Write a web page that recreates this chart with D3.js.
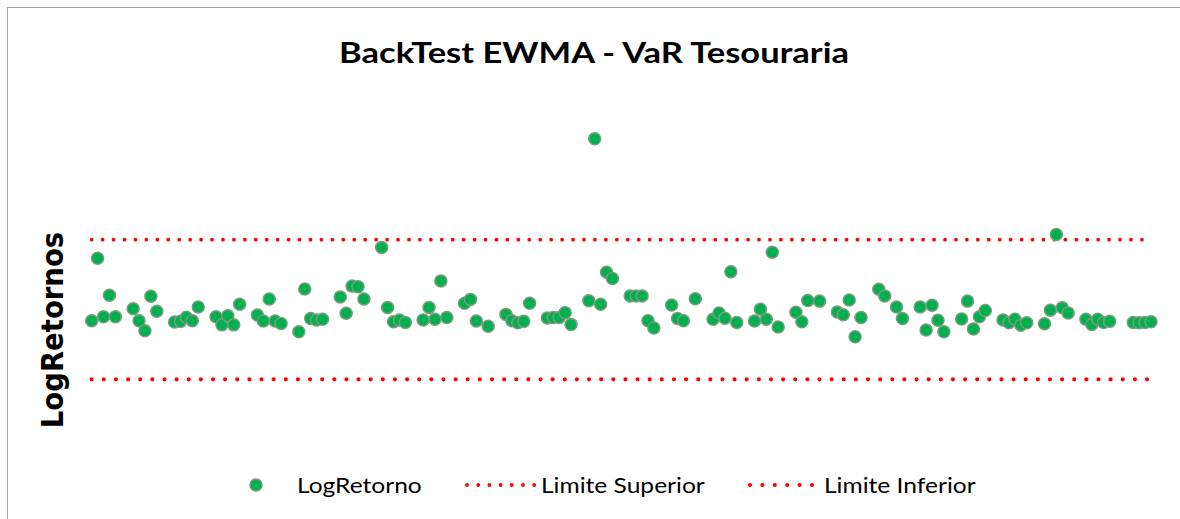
<!DOCTYPE html>
<html>
<head>
<meta charset="utf-8">
<script src="https://cdn.jsdelivr.net/npm/d3@7"></script>
<style>
  body { margin: 0; background: #fff; }
  svg { display: block; }
</style>
</head>
<body>
<div id="vis"></div>
<script>
// dias corridos desde a primeira data (sem fins de semana / feriados)
const dias = [
  0, 1, 2, 3, 4, 7, 8, 9, 10, 11, 14, 15, 16, 17, 18, 21, 22, 23, 24, 25,
  28, 29, 30, 31, 32, 35, 36, 37, 38, 39, 42, 43, 44, 45, 46, 49, 50, 51, 52, 53,
  56, 57, 58, 59, 60, 63, 64, 65, 67, 70, 71, 72, 73, 74, 77, 78, 79, 80, 81,
  84, 85, 86, 87, 88, 91, 92, 93, 94, 95, 98, 99, 100, 102, 105, 106, 107, 108, 109,
  112, 113, 114, 115, 116, 119, 120, 121, 123, 126, 127, 128, 129, 130, 133, 134, 136, 137,
  140, 141, 142, 143, 144, 147, 148, 149, 150, 151, 154, 155, 156, 157, 158,
  161, 162, 163, 164, 165, 168, 169, 170, 171, 172, 176, 177, 178, 179
];
const logRetorno = [
  -0.0032, 0.0147, -0.0021, 0.0041, -0.0021, 0.0002, -0.0032, -0.0061, 0.0038, -0.0005,
  -0.0036, -0.0034, -0.0022, -0.0032, 0.0007, -0.0021, -0.0044, -0.0018, -0.0044, 0.0015,
  -0.0016, -0.0033, 0.0030, -0.0033, -0.0040, -0.0064, 0.0059, -0.0026, -0.0030, -0.0028,
  0.0036, -0.0011, 0.0067, 0.0065, 0.0030, 0.0178, 0.0006, -0.0035, -0.0030, -0.0037,
  -0.0030, 0.0006, -0.0028, 0.0082, -0.0023, 0.0018, 0.0029, -0.0033, -0.0048, -0.0014,
  -0.0032, -0.0038, -0.0034, 0.0018, -0.0024, -0.0023, -0.0023, -0.0009, -0.0043, 0.0025,
  0.0489, 0.0015, 0.0107, 0.0089, 0.0039, 0.0039, 0.0039, -0.0032, -0.0053, 0.0013,
  -0.0026, -0.0032, 0.0031, -0.0028, -0.0010, -0.0025, 0.0108, -0.0037, -0.0033, 0.0001,
  -0.0028, 0.0164, -0.0050, -0.0008, -0.0035, 0.0026, 0.0024, -0.0007, -0.0015, 0.0027,
  -0.0078, -0.0023, 0.0058, 0.0039, 0.0007, -0.0026, 0.0007, -0.0059, 0.0012, -0.0031,
  -0.0064, -0.0027, 0.0024, -0.0056, -0.0021, -0.0003, -0.0030, -0.0038, -0.0028, -0.0045,
  -0.0038, -0.0041, -0.0002, 0.0215, 0.0005, -0.0010, -0.0028, -0.0043, -0.0028, -0.0037,
  -0.0034, -0.0037, -0.0038, -0.0037, -0.0035
];
const limiteSuperior = 0.02;
const limiteInferior = -0.02;

const WIDTH = 1180, HEIGHT = 519;
const verde = "#00b050", contorno = "#7a9c7a", vermelho = "#ff0000";
const esticar = 1.17; // o original parece esticado na horizontal

const svg = d3.select("#vis").append("svg")
  .attr("width", WIDTH).attr("height", HEIGHT);

// moldura do gráfico
svg.append("rect")
  .attr("x", 7.5).attr("y", 7.5)
  .attr("width", WIDTH + 10).attr("height", HEIGHT + 10)
  .attr("fill", "white").attr("stroke", "#a6a6a6");

const escalaX = d3.scaleLinear()
  .domain([d3.min(dias), d3.max(dias)])
  .range([91.7, 1151]);
const escalaY = d3.scaleLinear()
  .domain([limiteInferior, limiteSuperior])
  .range([379.3, 239.7]);

// titulo
svg.append("text")
  .attr("transform", `translate(594, 63) scale(${esticar + 0.02}, 1)`)
  .attr("text-anchor", "middle")
  .style("font-family", "Lato, 'Open Sans', sans-serif")
  .style("font-weight", "bold").style("font-size", "29px")
  .text("BackTest EWMA - VaR Tesouraria");

// rotulo eixo Y
svg.append("text")
  .attr("transform", "translate(63, 330) rotate(-90) scale(1, 1.12)")
  .attr("text-anchor", "middle")
  .style("font-family", "'DejaVu Sans', sans-serif")
  .style("font-weight", "bold").style("font-size", "27.5px")
  .text("LogRetornos");

// limites
const linha = d3.line().x((d) => escalaX(d[0])).y((d) => escalaY(d[1]));
const extremos = d3.extent(dias);

svg.append("path")
  .datum(extremos.map((d) => [d, limiteSuperior]))
  .attr("d", linha)
  .attr("fill", "none").attr("stroke", vermelho)
  .attr("stroke-width", 3.8).attr("stroke-linecap", "round")
  .attr("stroke-dasharray", "0 10.94");

svg.append("path")
  .datum(extremos.map((d) => [d, limiteInferior]))
  .attr("d", linha)
  .attr("fill", "none").attr("stroke", vermelho)
  .attr("stroke-width", 4.2).attr("stroke-linecap", "round")
  .attr("stroke-dasharray", "0 12.13");

// pontos
svg.append("g")
  .selectAll("circle")
  .data(dias.map((d, i) => ({ dia: d, valor: logRetorno[i] })))
  .join("circle")
  .attr("cx", (d) => escalaX(d.dia))
  .attr("cy", (d) => escalaY(d.valor))
  .attr("r", 6)
  .attr("fill", verde)
  .attr("stroke", contorno)
  .attr("stroke-width", 1.5);

// legenda
const legenda = svg.append("g")
  .style("font-family", "Lato, 'Open Sans', sans-serif")
  .style("font-size", "21px");

const textoLegenda = (x, txt) => legenda.append("text")
  .attr("transform", `translate(${x}, 493) scale(${esticar}, 1)`)
  .text(txt);

legenda.append("circle")
  .attr("cx", 256).attr("cy", 485).attr("r", 6)
  .attr("fill", verde).attr("stroke", contorno).attr("stroke-width", 1.5);
textoLegenda(297, "LogRetorno");

legenda.append("line")
  .attr("x1", 467).attr("x2", 538).attr("y1", 485).attr("y2", 485)
  .attr("stroke", vermelho).attr("stroke-width", 3.8)
  .attr("stroke-linecap", "round").attr("stroke-dasharray", "0 11.2");
textoLegenda(541, "Limite Superior");

legenda.append("line")
  .attr("x1", 750).attr("x2", 813).attr("y1", 485).attr("y2", 485)
  .attr("stroke", vermelho).attr("stroke-width", 4.2)
  .attr("stroke-linecap", "round").attr("stroke-dasharray", "0 12.4");
textoLegenda(824, "Limite Inferior");
</script>
</body>
</html>
